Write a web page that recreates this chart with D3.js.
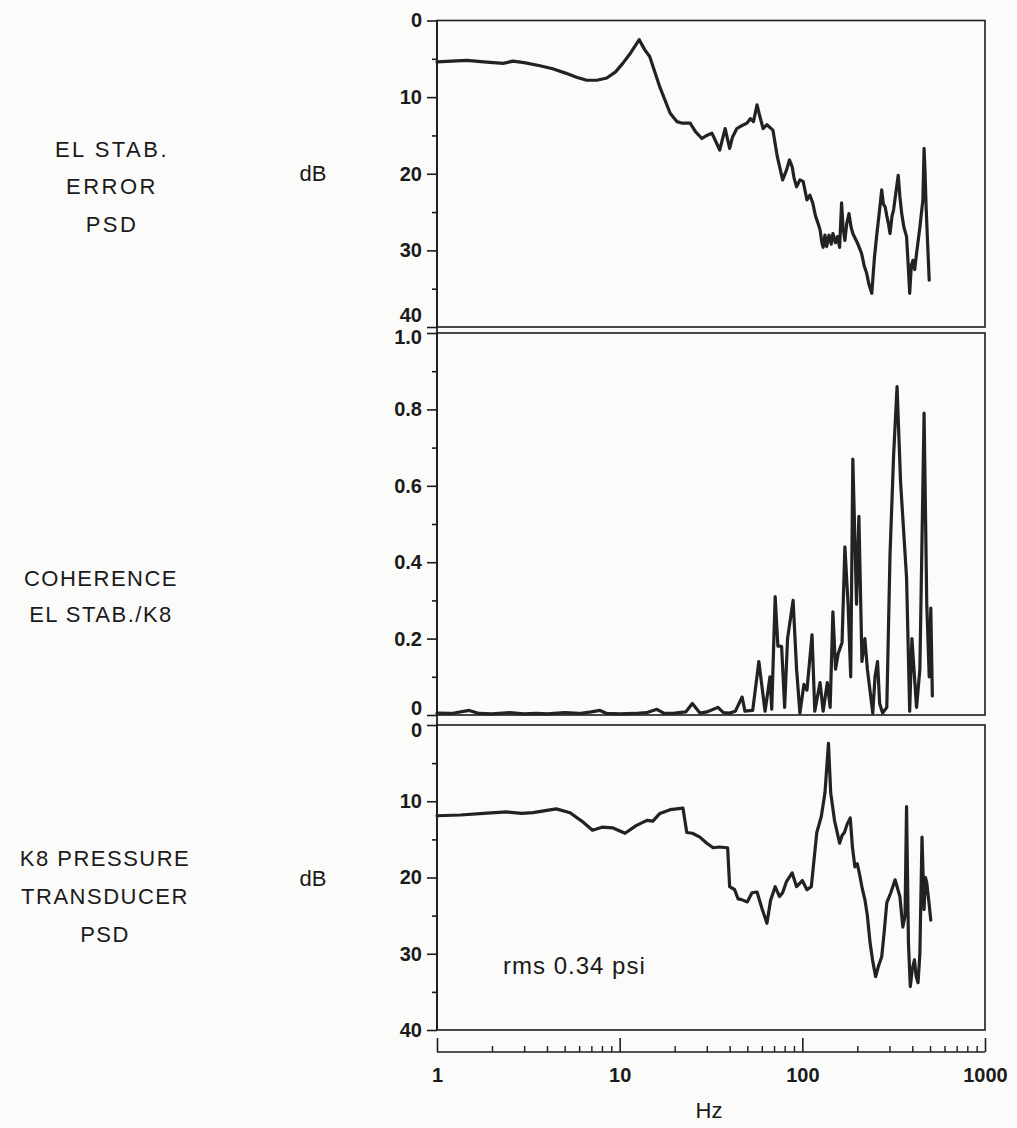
<!DOCTYPE html>
<html>
<head>
<meta charset="utf-8">
<script src="https://cdn.jsdelivr.net/npm/d3@7/dist/d3.min.js"></script>
<style>
  html, body { margin: 0; padding: 0; background: #fbfbf9; }
  svg { display: block; }
  text { font-family: "Liberation Sans", Arial, sans-serif; fill: #1a1a1a; }
</style>
</head>
<body>
<svg id="chart" width="1017" height="1128"></svg>
<script>
// ---------- DATA ----------
const xTickValues = [1, 10, 100, 1000];
const xTickLabels = ["1", "10", "100", "1000"];
const xMinorTicks = [2,3,4,5,6,7,8,9,20,30,40,50,60,70,80,90,200,300,400,500,600,700,800,900];

const dbTickValues = [0, 10, 20, 30, 40];
const dbMinorTicks = [5, 15, 25, 35];
const cohTickValues = [0, 0.2, 0.4, 0.6, 0.8, 1.0];
const cohTickLabels = ["0", "0.2", "0.4", "0.6", "0.8", "1.0"];
const cohMinorTicks = [0.1, 0.3, 0.5, 0.7, 0.9];

// Panel 1: EL STAB. ERROR PSD (dB, downward)
const elFreq = [1.0,1.2,1.46,1.8,2.3,2.6,3.0,3.66,4.3,5.1,5.8,6.6,7.5,8.5,9.5,10.4,11.5,12.8,13.7,14.6,16.6,18.9,20.6,22,24.3,26,28.2,30,32,35.3,37.8,40,41.5,43.8,46,49.7,52,54,56.5,58.5,61,64,69,73,78,82,85,88,90,93,97,101,106,110,114,118,122,125,128,130,133,136,140,144,147,152,156,160,164,167,171,175,180,185,189,200,211,218,225,232,240,248,256,264,272,278,284,290,296,302,310,316,325,335,342,350,360,372,380,387,395,403,412,422,440,457,464,470,476,485,495];
const elDb   = [5.4,5.3,5.2,5.4,5.6,5.3,5.5,5.9,6.3,6.9,7.4,7.8,7.8,7.5,6.7,5.6,4.2,2.5,3.8,4.7,8.7,12.1,13.2,13.4,13.4,14.5,15.4,15.0,14.7,16.9,14.1,16.7,15.2,14.1,13.8,13.4,12.8,13.2,11.0,12.5,14.1,13.6,14.3,17.8,20.8,19.5,18.2,19.1,20.5,21.7,20.8,21.0,23.4,22.8,23.8,25.5,26.5,27.3,29.0,29.6,28.0,29.5,28.0,29.2,27.8,29.0,28.2,29.6,23.8,27.0,28.7,26.5,25.2,27.0,27.8,29.0,30.4,32.0,33.0,34.5,35.6,31.0,27.8,25.0,22.1,24.0,24.3,25.5,26.5,27.8,25.5,24.7,22.5,20.2,23.0,25.2,27.0,28.2,32.0,35.6,32.0,31.3,32.5,30.4,27.0,23.4,16.7,20.0,24.3,29.0,33.9];

// Panel 2: COHERENCE EL STAB./K8
const cohFreq = [1,1.2,1.5,1.7,2,2.5,3,3.5,4,5,6,7,7.8,8.5,10,12,14,16,17.5,20,23,25,27.5,30,34.5,37,40,43,46.8,48.5,53.5,57.8,62.5,66.5,68,71,73.5,77,80,83,89,93,97,102,106,113,117,125,130,137,142,147,152,157,165,171,178,184,189,198,204,212,220,227,243,250,258,265,275,290,302,316,330,345,372,387,398,422,440,464,480,495,505,515];
const cohVal  = [0.005,0.004,0.012,0.004,0.003,0.006,0.003,0.004,0.003,0.006,0.004,0.008,0.012,0.004,0.003,0.004,0.006,0.015,0.004,0.005,0.008,0.03,0.005,0.008,0.02,0.006,0.005,0.01,0.047,0.01,0.012,0.14,0.01,0.1,0.015,0.31,0.18,0.18,0.02,0.2,0.3,0.12,0.005,0.08,0.065,0.21,0.01,0.085,0.01,0.085,0.02,0.27,0.12,0.16,0.19,0.44,0.29,0.1,0.67,0.29,0.52,0.14,0.2,0.12,0.005,0.1,0.14,0.03,0.005,0.02,0.42,0.68,0.86,0.61,0.36,0.01,0.2,0.02,0.12,0.79,0.29,0.1,0.28,0.05];

// Panel 3: K8 PRESSURE TRANSDUCER PSD (dB, downward)
const k8Freq = [1.0,1.34,1.8,2.4,2.9,3.35,4.0,4.5,5.35,6.2,7.1,8.0,9.2,10.7,12.3,14.1,15.2,16.6,18.9,20.5,22.2,23.3,25,27.5,30,32.5,35,39,40,42.6,44.5,46.5,50,53,56.5,60,64,67,71,75,78,82,88,93,100,106,112,120,127,133,139,143,150,160,165,170,176,183,188,194,200,207,213,220,227,235,243,252,262,272,281,290,305,322,342,355,365,372,381,390,400,411,420,430,440,452,464,472,480,492,505];
const k8Db   = [11.9,11.8,11.6,11.4,11.6,11.5,11.2,11.0,11.5,12.6,13.8,13.4,13.5,14.2,13.2,12.5,12.6,11.6,11.1,11.0,10.9,14.1,14.2,14.7,15.5,16.1,16.0,16.1,21.2,21.6,22.8,22.9,23.2,22.0,21.9,24.0,26.0,23.0,21.2,22.5,22.0,20.5,19.4,21.2,20.4,21.6,21.2,14.1,12.0,8.9,2.4,8.9,12.5,15.5,14.5,14.1,13.0,12.2,16.0,18.6,18.2,19.9,21.5,22.9,25.0,28.6,31.0,33.0,31.5,30.4,27.0,23.3,22.0,20.3,22.5,26.5,25.0,10.7,28.6,34.3,32.0,30.8,33.0,33.8,30.0,14.7,24.2,20.0,20.7,23.0,25.6];

const rowLabels = [
  { lines: ["EL STAB.", "ERROR", "PSD"], ys: [149, 186, 224], x: 112, ls: 2.5 },
  { lines: ["COHERENCE", "EL STAB./K8"], ys: [578, 614], x: 101, ls: 1.5 },
  { lines: ["K8 PRESSURE", "TRANSDUCER", "PSD"], ys: [858, 896, 934], x: 105, ls: 1.5 }
];

// ---------- DRAW ----------
const svg = d3.select("#chart");
const ink = "#1c1c1c";

const x = d3.scaleLog().domain([1, 1000]).range([437, 985]);
const yTop = d3.scaleLinear().domain([0, 40]).range([20.5, 327]);
const yMid = d3.scaleLinear().domain([0, 1]).range([715, 333]);
const yBot = d3.scaleLinear().domain([0, 40]).range([725, 1030]);

function styleAxis(g, fontSize) {
  g.select(".domain").remove();
  g.selectAll(".tick line").attr("stroke", ink).attr("stroke-width", 1.6);
  g.selectAll(".tick text")
    .attr("font-size", fontSize)
    .attr("font-weight", "bold")
    .attr("font-family", "'Liberation Sans', Arial, sans-serif")
    .attr("fill", ink);
}

// labelShift: per-tick vertical nudge of label (so adjoining panel labels don't collide)
function panel(y, tickVals, tickFmt, minor, labelShift) {
  const [y0, y1] = y.range();
  const top = Math.min(y0, y1), bot = Math.max(y0, y1);
  svg.append("rect")
    .attr("x", x(1)).attr("y", top)
    .attr("width", x(1000) - x(1)).attr("height", bot - top)
    .attr("fill", "none").attr("stroke", ink).attr("stroke-width", 1.6);
  const gMaj = svg.append("g").attr("transform", `translate(${x(1)},0)`)
    .call(d3.axisLeft(y).tickValues(tickVals).tickFormat(tickFmt).tickSize(10).tickPadding(5));
  styleAxis(gMaj, 20);
  gMaj.selectAll(".tick text").attr("y", d => labelShift(d));
  const gMin = svg.append("g").attr("transform", `translate(${x(1)},0)`)
    .call(d3.axisLeft(y).tickValues(minor).tickFormat("").tickSize(5));
  styleAxis(gMin, 20);
}

panel(yTop, dbTickValues, d3.format("d"), dbMinorTicks, d => d === 40 ? -12 : 0);
panel(yMid, cohTickValues, (d, i) => cohTickLabels[i], cohMinorTicks, d => d === 0 ? -7 : (d === 1 ? 4 : 0));
panel(yBot, dbTickValues, d3.format("d"), dbMinorTicks, d => d === 0 ? 5 : 0);

// continuous left axis line
svg.append("line").attr("x1", x(1)).attr("x2", x(1))
  .attr("y1", yTop(0)).attr("y2", yBot(40))
  .attr("stroke", ink).attr("stroke-width", 1.8);

// x axis below bottom panel
const axisY = 1052;
const gx = svg.append("g").attr("transform", `translate(0,${axisY})`)
  .call(d3.axisBottom(x).tickValues(xTickValues).tickFormat((d, i) => xTickLabels[i])
    .tickSizeInner(-14).tickSizeOuter(0).tickPadding(16));
gx.select(".domain").remove();
gx.selectAll(".tick line").attr("stroke", ink).attr("stroke-width", 1.6);
gx.selectAll(".tick text").attr("font-size", 20).attr("font-weight", "bold")
  .attr("font-family", "'Liberation Sans', Arial, sans-serif").attr("fill", ink);
const gxm = svg.append("g").attr("transform", `translate(0,${axisY})`)
  .call(d3.axisBottom(x).tickValues(xMinorTicks).tickFormat("").tickSizeInner(-6).tickSizeOuter(0));
gxm.select(".domain").remove();
gxm.selectAll(".tick line").attr("stroke", ink).attr("stroke-width", 1.4);
svg.append("line").attr("x1", x(1)).attr("x2", x(1000)).attr("y1", axisY).attr("y2", axisY)
  .attr("stroke", ink).attr("stroke-width", 1.6);

svg.append("text").attr("x", 709).attr("y", 1118).attr("text-anchor", "middle")
  .attr("font-size", 22).text("Hz");

// data lines
function drawLine(freqs, vals, y) {
  const pts = freqs.map((f, i) => [f, vals[i]]);
  svg.append("path").datum(pts)
    .attr("d", d3.line().x(d => x(d[0])).y(d => y(d[1])))
    .attr("fill", "none").attr("stroke", "#222").attr("stroke-width", 3.2)
    .attr("stroke-linejoin", "round").attr("stroke-linecap", "round");
}
drawLine(elFreq, elDb, yTop);
drawLine(cohFreq, cohVal, yMid);
drawLine(k8Freq, k8Db, yBot);

// row labels
rowLabels.forEach(r => {
  r.lines.forEach((t, i) => {
    svg.append("text").attr("x", r.x).attr("y", r.ys[i]).attr("dy", "0.35em")
      .attr("text-anchor", "middle").attr("font-size", 22).attr("letter-spacing", r.ls)
      .text(t);
  });
});
svg.append("text").attr("x", 313).attr("y", 173).attr("dy", "0.35em")
  .attr("text-anchor", "middle").attr("font-size", 22).text("dB");
svg.append("text").attr("x", 313).attr("y", 878).attr("dy", "0.35em")
  .attr("text-anchor", "middle").attr("font-size", 22).text("dB");

svg.append("text").attr("x", 503).attr("y", 974)
  .attr("font-size", 24).attr("letter-spacing", 1).text("rms 0.34 psi");
</script>
</body>
</html>
